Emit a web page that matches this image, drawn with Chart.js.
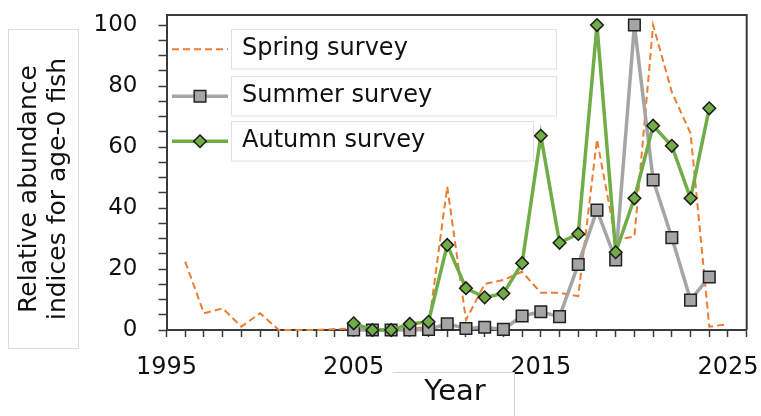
<!DOCTYPE html>
<html>
<head>
<meta charset="utf-8">
<script src="https://cdn.jsdelivr.net/npm/chart.js@4/dist/chart.umd.min.js"></script>
<style>
  html, body { margin: 0; padding: 0; background: #fff; }
  #wrap { width: 761px; height: 416px; position: relative; }
</style>
</head>
<body>
<div id="wrap"><canvas id="myLineChart"></canvas></div>
<script>
// datos
const springYears = [1996,1997,1998,1999,2000,2001,2002,2003,2004,2005,2006,2007,2008,2009,2010,
                     2011,2012,2013,2014,2015,2016,2017,2018,2019,2020,2021,2022,2023,2024,2025];
const spring = [22.4,5.5,7.1,1.1,5.5,0,0,0,0.3,0.5,0,0,0.5,1,47,
                3.3,15.1,16.4,19.1,12.2,12.2,11.1,62.5,29.5,30.7,100,78,64.5,1.1,1.9];

const surveyYears = [2005,2006,2007,2008,2009,2010,2011,2012,2013,2014,
                     2015,2016,2017,2018,2019,2020,2021,2022,2023,2024];
const summer = [0,0,0,0,0.2,2.0,0.5,0.9,0.2,4.6,6.0,4.4,21.5,39.3,23.0,100,49.2,30.3,9.8,17.4];
const autumn = [2.2,0,0,2.0,2.7,27.9,13.7,10.7,12.0,21.9,63.7,28.6,31.5,100,25.5,43.2,67.0,60.4,43.2,72.7];

const seriesNames = ['Spring survey', 'Summer survey', 'Autumn survey'];
const xTickLabels = [1995, 2005, 2015, 2025];
const yTickLabels = [0, 20, 40, 60, 80, 100];
const yTitleLines = ['Relative abundance', 'indices for age-0 fish'];
const xTitle = 'Year';

const FONT = "'DejaVu Sans', sans-serif";
const AXIS = '#3a3a3a';

function toPoints(xs, ys) {
    return xs.map((x, i) => ({x: x, y: ys[i]}));
}

// leyenda y titulos dibujados a mano
const decorPlugin = {
    id: 'decor',
    beforeDatasetsDraw(chart) {
        const {ctx, chartArea: a} = chart;
        ctx.save();
        ctx.strokeStyle = AXIS;
        ctx.lineWidth = 2;
        ctx.beginPath();
        ctx.moveTo(a.left, a.top);
        ctx.lineTo(a.right, a.top);
        ctx.lineTo(a.right, a.bottom);
        ctx.stroke();
        ctx.restore();
    },
    afterDraw(chart) {
        const {ctx} = chart;
        ctx.save();

        // caja del titulo Y
        ctx.fillStyle = '#fff';
        ctx.strokeStyle = '#dcdcdc';
        ctx.lineWidth = 1;
        ctx.fillRect(8.5, 29.5, 70, 319);
        ctx.strokeRect(8.5, 29.5, 70, 319);
        ctx.fillStyle = '#111';
        ctx.font = '25px ' + FONT;
        ctx.textAlign = 'center';
        ctx.textBaseline = 'middle';
        ctx.translate(0, 189);
        ctx.rotate(-Math.PI / 2);
        ctx.fillText(yTitleLines[0], 0, 29);
        ctx.fillText(yTitleLines[1], 0, 58);
        ctx.setTransform(1, 0, 0, 1, 0, 0);

        // caja del titulo X
        ctx.fillStyle = '#fff';
        ctx.fillRect(393, 372.5, 122, 50);
        ctx.strokeStyle = '#d4d4d4';
        ctx.beginPath();
        ctx.moveTo(393, 372.5);
        ctx.lineTo(514.5, 372.5);
        ctx.lineTo(514.5, 416);
        ctx.stroke();
        ctx.fillStyle = '#111';
        ctx.font = '29px ' + FONT;
        ctx.textAlign = 'center';
        ctx.textBaseline = 'middle';
        ctx.fillText(xTitle, 455, 392);

        // leyenda
        const rows = [
            {y: 29.5, h: 39.5, w: 325},
            {y: 76.5, h: 39.5, w: 325},
            {y: 121.5, h: 39.5, w: 302}
        ];
        [0, 1, 2].forEach((di, i) => {
            const ds = chart.data.datasets.find(d => d.label === seriesNames[di]);
            const r = rows[i];
            const cy = r.y + r.h / 2;
            ctx.fillStyle = '#fff';
            ctx.strokeStyle = '#e0e0e0';
            ctx.lineWidth = 1;
            ctx.fillRect(231.5, r.y, r.w, r.h);
            ctx.strokeRect(231.5, r.y, r.w, r.h);

            ctx.strokeStyle = ds.borderColor;
            ctx.lineWidth = ds.borderWidth;
            ctx.setLineDash(ds.borderDash || []);
            ctx.beginPath();
            ctx.moveTo(172, cy);
            ctx.lineTo(228, cy);
            ctx.stroke();
            ctx.setLineDash([]);
            if (ds.pointRadius > 0) {
                ctx.fillStyle = ds.pointBackgroundColor;
                ctx.strokeStyle = ds.pointBorderColor;
                ctx.lineWidth = ds.pointBorderWidth;
                Chart.helpers.drawPoint(ctx, {pointStyle: ds.pointStyle, rotation: 0, radius: ds.pointRadius, borderWidth: ds.pointBorderWidth}, 200, cy);
            }
            ctx.fillStyle = '#111';
            ctx.font = '24px ' + FONT;
            ctx.textAlign = 'left';
            ctx.textBaseline = 'middle';
            ctx.fillText(seriesNames[di], 242, cy);
        });
        ctx.restore();
    }
};

function initLineChart() {
    const ctxLine = document.getElementById('myLineChart');
    if (!ctxLine) return;
    new Chart(ctxLine, {
        type: 'line',
        data: {
            datasets: [{
                label: seriesNames[0],
                data: toPoints(springYears, spring),
                borderColor: '#ED7D31',
                borderWidth: 2,
                borderDash: [7, 4],
                pointRadius: 0,
                tension: 0,
                order: 3,
                clip: false
            }, {
                label: seriesNames[1],
                data: toPoints(surveyYears, summer),
                borderColor: '#A5A5A5',
                borderWidth: 3.5,
                pointStyle: 'rect',
                pointRadius: 8.2,
                pointBackgroundColor: '#A5A5A5',
                pointBorderColor: '#222',
                pointBorderWidth: 1.5,
                tension: 0,
                order: 2,
                clip: false
            }, {
                label: seriesNames[2],
                data: toPoints(surveyYears, autumn),
                borderColor: '#70AD47',
                borderWidth: 3.5,
                pointStyle: 'rectRot',
                pointRadius: 6.3,
                pointBackgroundColor: '#70AD47',
                pointBorderColor: '#1a1a1a',
                pointBorderWidth: 1.5,
                tension: 0,
                order: 1,
                clip: false
            }]
        },
        options: {
            responsive: true,
            maintainAspectRatio: false,
            animation: false,
            layout: { padding: { top: 15, right: 14.3, bottom: 0, left: 0 } },
            plugins: {
                legend: { display: false },
                tooltip: { enabled: false },
                title: { display: false }
            },
            scales: {
                x: {
                    type: 'linear',
                    min: 1995,
                    max: 2026,
                    afterFit: s => { s.height = 86; s.paddingLeft = 0; s.paddingRight = 0; },
                    grid: { drawOnChartArea: false, drawTicks: true, tickLength: 7, tickColor: AXIS, tickWidth: 1.5 },
                    border: { color: AXIS, width: 2 },
                    ticks: {
                        stepSize: 1,
                        autoSkip: false,
                        maxRotation: 0,
                        padding: 16,
                        color: '#111',
                        font: { family: FONT, size: 24 },
                        callback: v => xTickLabels.includes(v) ? String(v) : ''
                    }
                },
                y: {
                    min: 0,
                    max: 103.3,
                    afterFit: s => { s.width = 166.5; s.paddingTop = 0; s.paddingBottom = 0; },
                    grid: { drawOnChartArea: false, drawTicks: true, tickLength: 8, tickColor: AXIS, tickWidth: 1.5 },
                    border: { color: AXIS, width: 2 },
                    ticks: {
                        stepSize: 5,
                        includeBounds: false,
                        autoSkip: false,
                        padding: 21,
                        color: '#111',
                        font: { family: FONT, size: 23 },
                        callback: v => yTickLabels.includes(v) ? String(v) : ''
                    }
                }
            }
        },
        plugins: [decorPlugin]
    });
}

initLineChart();
</script>
</body>
</html>
